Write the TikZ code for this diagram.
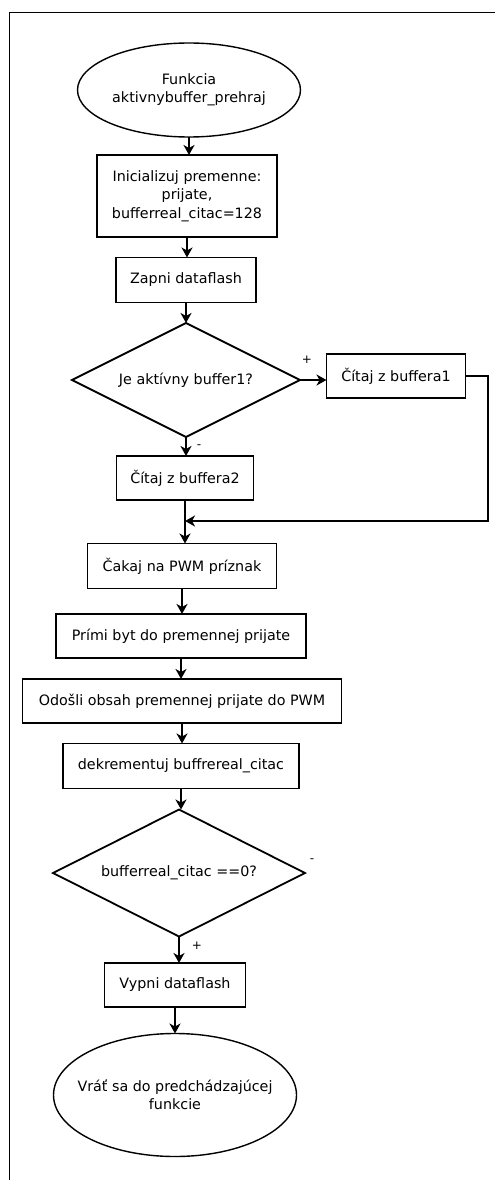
\documentclass[tikz,border=0pt]{standalone}
\usepackage{fontspec}
\setmainfont{DejaVu Sans}
\usetikzlibrary{shapes.geometric,arrows.meta}

\begin{document}
\begin{tikzpicture}[x=1pt,y=-1pt,>={Stealth[length=10pt,width=11pt,inset=3pt]},
  every node/.style={font=\fontsize{14.3}{18.5}\selectfont, align=center, outer sep=0pt},
  krok/.style={draw, line width=1.8pt, rectangle, minimum height=44pt},
  koniec/.style={draw, line width=1.4pt, ellipse, inner xsep=-20pt},
  otazka/.style={draw, line width=1.8pt, diamond, shape aspect=2, inner sep=0pt},
  tok/.style={->, line width=1.8pt},
  znak/.style={font=\fontsize{12}{14}\selectfont, inner sep=1pt}]
   \useasboundingbox (0,0) rectangle (496,1180);
   \draw[line width=1pt] (495,13) -- (9,13) -- (9,1180);

   \node[koniec, minimum width=223pt, minimum height=94pt] (start) at (189,90) {Funkcia\\aktivnybuffer\_prehraj};
   \node[krok, minimum width=180pt, minimum height=82pt] (init) at (187,196) {Inicializuj premenne:\\prijate,\\bufferreal\_citac=128};
   \node[krok, minimum width=140pt, minimum height=45pt] (zapni) at (186,280) {Zapni dataflash};
   \node[otazka, minimum width=228pt, minimum height=114pt] (aktivny) at (186,380) {Je aktívny buffer1?};
   \node[krok, minimum width=139pt] (buf1) at (396,376) {Čítaj z buffera1};
   \node[krok, minimum width=137pt] (buf2) at (185,478) {Čítaj z buffera2};
   \node[krok, minimum width=189pt, minimum height=45pt] (cakaj) at (182,566) {Čakaj na PWM príznak};
   \node[krok, minimum width=250pt] (primi) at (181,636) {Prími byt do premennej prijate};
   \node[krok, minimum width=319pt] (odosli) at (182,701) {Odošli obsah premennej prijate do PWM};
   \node[krok, minimum width=236pt, minimum height=45pt] (dekrem) at (181,766) {dekrementuj buffrereal\_citac};
   \node[otazka, minimum width=252pt, minimum height=127pt] (nula) at (179,873) {bufferreal\_citac ==0?};
   \node[krok, minimum width=141pt] (vypni) at (175,985) {Vypni dataflash};
   \node[koniec, minimum width=243pt, minimum height=123pt] (navrat) at (175,1095) {Vráť sa do predchádzajúcej\\funkcie};

   % hlavny tok
   \foreach \a/\b in {start/init, init/zapni, zapni/aktivny, aktivny/buf2, buf2/cakaj, cakaj/primi, primi/odosli, odosli/dekrem, dekrem/nula, nula/vypni, vypni/navrat}
      \draw[tok] (\a.south) -- (\a.south |- \b.north);

   % vetva buffer1
   \draw[tok] (aktivny.east) -- (aktivny.east -| buf1.west);
   \coordinate (vpravo) at (488,521);
   \draw[tok] (buf1.east) -| (vpravo) -- (vpravo -| buf2.south);

   \node[znak] (plus1) at (307,360) {+};
   \node[znak] (minus1) at (199,447) {-};
   \node[znak] (minus2) at (312,861) {-};
   \node[znak] (plus2) at (197,946) {+};
\end{tikzpicture}
\end{document}
